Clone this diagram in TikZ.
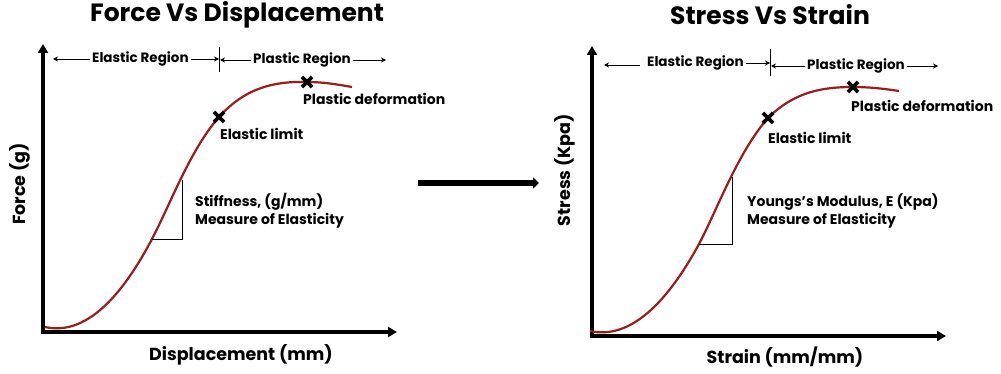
\documentclass[tikz,border=0pt]{standalone}
\usepackage{fontspec}
\setmainfont{Poppins}
\usetikzlibrary{arrows.meta,shapes.misc}
\definecolor{curvered}{HTML}{9B1C1C}
\begin{document}
\begin{tikzpicture}[x=1pt,y=-1pt,
  axis/.style={line width=3.5pt,{Triangle[length=9pt,width=10pt]}-{Triangle[length=9pt,width=10pt]}},
  rarrow/.style={line width=0.9pt,-{Stealth[length=5pt,width=5pt]}},
  lbl/.style={font=\bfseries\fontsize{14}{16}\selectfont,inner sep=0pt},
  rlbl/.style={font=\bfseries\fontsize{13.5}{16}\selectfont,inner sep=2pt},
  ttl/.style={font=\bfseries\fontsize{25}{28}\selectfont,inner sep=0pt},
  axlbl/.style={font=\bfseries\fontsize{17.5}{20}\selectfont,inner sep=0pt},
  crv/.style={curvered,line width=2.2pt},
  xmark/.style={draw,cross out,line width=3.6pt,minimum size=6.5pt,inner sep=0pt},
  tri/.style={line width=1pt,line join=miter}]
\useasboundingbox (0,0) rectangle (1001,374);
\fill[white] (0,0) rectangle (1001,374);

% ---------- left chart ----------
\node[ttl] (t1) at (237,15) {Force Vs Displacement};
\coordinate (yt1) at (43,44);
\coordinate (o1) at (43,332);
\coordinate (xt1) at (397,332);
\draw[axis] (yt1) -- (o1) -- (xt1);
\node[axlbl,rotate=90] (yl1) at (20,184) {Force (g)};
\node[axlbl] (xl1) at (241,355) {Displacement (mm)};
% regions
\coordinate (tka1) at (219,47);
\coordinate (tkb1) at (219,72);
\draw[line width=0.9pt] (tka1) -- (tkb1);
\coordinate (el1) at (53,59);
\coordinate (pr1e) at (386,60);
\node[rlbl,anchor=west] (er1) at (90,59) {Elastic Region};
\node[rlbl,anchor=west] (pr1) at (251,60) {Plastic Region};
\draw[rarrow] (er1.west) -- (el1);
\draw[rarrow] (er1.east) -- (tka1 |- er1.east);
\draw[rarrow] (pr1.west) -- ([xshift=1pt]tka1 |- pr1.west);
\draw[rarrow] (pr1.east) -- (pr1e);
% curve
\coordinate (c1a) at (45,327);
\coordinate (c1b) at (152,239);
\coordinate (c1c) at (219,117);
\coordinate (c1d) at (307,82);
\coordinate (c1e) at (352,87);
\draw[crv] (c1a) .. controls (85,336) and (121,298) .. (c1b)
  .. controls (170,205) and (190,150) .. (c1c)
  .. controls (245,88) and (274,81) .. (c1d)
  .. controls (325,82) and (340,85) .. (c1e);
% triangle
\coordinate (tr1) at (182,239);
\coordinate (tt1) at (182,180);
\draw[tri] (c1b) -- (tr1) -- (tt1);
% marks
\node[xmark] (m1a) at (c1c) {};
\node[xmark] (m1b) at (c1d) {};
\node[lbl,anchor=west] (lel1) at (220,134) {Elastic limit};
\node[lbl,anchor=west] (lpd1) at (303,99) {Plastic deformation};
\node[lbl,anchor=west] (st1) at (195,202) {Stiffness, (g/mm)};
\node[lbl,anchor=west] (me1) at (195,221) {Measure of Elasticity};

% ---------- middle arrow ----------
\coordinate (ma) at (418,183);
\coordinate (mb) at (539,183);
\draw[line width=5.5pt,-{Triangle[length=6pt,width=11pt]}] (ma) -- (mb);

% ---------- right chart ----------
\node[ttl] (t2) at (770,15) {Stress Vs Strain};
\coordinate (yt2) at (592,46);
\coordinate (o2) at (592,336);
\coordinate (xt2) at (946,336);
\draw[axis] (yt2) -- (o2) -- (xt2);
\node[axlbl,rotate=90] (yl2) at (565,170) {Stress (Kpa)};
\node[axlbl] (xl2) at (785,357) {Strain (mm/mm)};
% regions
\coordinate (tka2) at (770,49);
\coordinate (tkb2) at (770,76);
\draw[line width=0.9pt] (tka2) -- (tkb2);
\coordinate (el2) at (604,65);
\coordinate (pr2e) at (938,66);
\node[rlbl,anchor=west] (er2) at (645,63) {Elastic Region};
\node[rlbl,anchor=west] (pr2) at (805,66) {Plastic Region};
\coordinate (ela2) at (640,65);
\draw[rarrow] (ela2) -- (el2);
\draw[rarrow] (er2.east) -- (tka2 |- er2.east);
\draw[rarrow] (pr2.west) -- ([xshift=1pt]tka2 |- pr2.west);
\draw[rarrow] (pr2.east) -- (pr2e);
% curve
\coordinate (c2a) at (590,331);
\coordinate (c2b) at (699,244);
\coordinate (c2c) at (768,118);
\coordinate (c2d) at (853,87);
\coordinate (c2e) at (899,91);
\draw[crv] (c2a) .. controls (630,340) and (667,303) .. (c2b)
  .. controls (717,210) and (738,152) .. (c2c)
  .. controls (794,92) and (822,87) .. (c2d)
  .. controls (870,87) and (886,89) .. (c2e);
\coordinate (tr2) at (732,244);
\coordinate (tt2) at (732,177);
\draw[tri] (c2b) -- (tr2) -- (tt2);
\node[xmark] (m2a) at (c2c) {};
\node[xmark] (m2b) at (c2d) {};
\node[lbl,anchor=west] (lel2) at (768,138) {Elastic limit};
\node[lbl,anchor=west] (lpd2) at (851,106) {Plastic deformation};
\node[lbl,anchor=west] (st2) at (747,202) {Youngs's Modulus, E (Kpa)};
\node[lbl,anchor=west] (me2) at (747,221) {Measure of Elasticity};
\end{tikzpicture}
\end{document}
